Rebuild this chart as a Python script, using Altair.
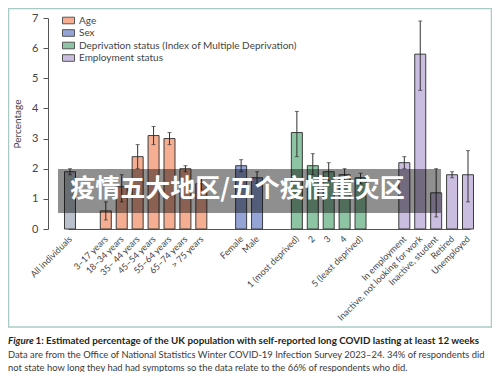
import altair as alt
import pandas as pd

labels = ["All individuals", "3–17 years", "18–34 years", "35– 44 years", "45–54 years",
          "55–64 years", "65–74 years", "> 75 years", "Female", "Male",
          "1 (most deprived)", "2", "3", "4", "5 (least deprived)",
          "In employment", "Inactive, not looking for work", "Inactive, student",
          "Retired", "Unemployed"]
groups = ["All"] + ["Age"] * 7 + ["Sex"] * 2 + \
         ["Deprivation status (Index of Multiple Deprivation)"] * 5 + ["Employment status"] * 5
values = [1.9, 0.6, 1.4, 2.4, 3.1, 3.0, 2.0, 1.5, 2.1, 1.7, 3.2, 2.1, 1.9, 1.8, 1.7,
          2.2, 5.8, 1.2, 1.8, 1.8]
lower = [1.8, 0.3, 0.9, 2.0, 2.8, 2.8, 1.9, 1.3, 1.9, 1.5, 2.4, 1.8, 1.6, 1.6, 1.5,
         2.0, 4.6, 0.4, 1.7, 0.9]
upper = [2.0, 0.9, 1.8, 2.8, 3.4, 3.2, 2.1, 1.7, 2.3, 1.9, 3.9, 2.5, 2.2, 2.0, 1.85,
         2.4, 6.9, 2.0, 1.9, 2.6]
y_ticks = [0, 1, 2, 3, 4, 5, 6, 7]

legend_groups = ["Age", "Sex", "Deprivation status (Index of Multiple Deprivation)", "Employment status"]
color_domain = legend_groups + ["All"]
color_range = ["#f6ae92", "#95a4d6", "#8dc4a3", "#cbbde0", "#b9c2cc"]

overlay_text = "疫情五大地区/五个疫情重灾区"
caption_fig = "Figure"
caption_l1 = "1: Estimated percentage of the UK population with self-reported long COVID lasting at least 12 weeks"
caption_l2 = "Data are from the Office of National Statistics Winter COVID-19 Infection Survey 2023–24. 34% of respondents did"
caption_l3 = "not state how long they had had symptoms so the data relate to the 66% of respondents who did."

df = pd.DataFrame({"label": labels, "group": groups, "value": values, "lo": lower, "hi": upper})

# point-scale domain with spacer slots (quarter-step grid) to reproduce group gaps
gap_quarters = [9, 10, 10, 11]
domain = []
gi = 0
sp = 0
for i, lab in enumerate(labels):
    if i > 0:
        n = 4
        if groups[i] != groups[i - 1]:
            n = gap_quarters[gi]
            gi += 1
        for _ in range(n - 1):
            domain.append(f"__sp{sp}")
            sp += 1
    domain.append(lab)

LABEL_FONT = "Lato"
CAP_FONT = "Lato"

xenc = alt.X("label:N", title=None,
             scale=alt.Scale(type="point", domain=domain, range=[20, 422]),
             axis=alt.Axis(values=labels, labelAngle=-45, labelAlign="right", labelBaseline="middle",
                           labelPadding=8, labelFontSize=9, labelFont=LABEL_FONT, labelColor="#444",
                           ticks=False, domainColor="#555", domainWidth=1, grid=False, labelOverlap=False))

yscale = alt.Scale(domain=[0, 7], nice=False)
yaxis = alt.Axis(values=y_ticks, tickSize=5, tickColor="#555", labelOverlap=False,
                 labelFlush=False, domainColor="#555", labelPadding=5, labelFontSize=11,
                 labelFont=LABEL_FONT, labelColor="#444", grid=False, title="Percentage",
                 titleFontSize=10, titleFont=LABEL_FONT, titleFontWeight="normal",
                 titleColor="#444", titlePadding=9)

base = alt.Chart(df).encode(x=xenc)

bars = base.mark_bar(width=11, stroke="#3d3d3d", strokeWidth=1).encode(
    y=alt.Y("value:Q", scale=yscale, axis=yaxis),
    color=alt.Color("group:N", scale=alt.Scale(domain=color_domain, range=color_range),
                    legend=alt.Legend(orient="none", legendX=14, legendY=-4, title=None,
                                      values=legend_groups, symbolType="M-1,-0.55H1V0.55H-1Z",
                                      symbolSize=144, symbolStrokeColor="#555", symbolStrokeWidth=1,
                                      symbolOpacity=1, labelFontSize=10, labelFont=LABEL_FONT,
                                      labelColor="#444", rowPadding=0.5, padding=0, labelOffset=4,
                                      labelLimit=400)),
)

err = base.mark_rule(color="#333", strokeWidth=1).encode(
    y=alt.Y("lo:Q", scale=yscale, axis=yaxis), y2="hi:Q")
cap_lo = base.mark_tick(color="#333", size=4, thickness=1).encode(
    y=alt.Y("lo:Q", scale=yscale, axis=yaxis))
cap_hi = base.mark_tick(color="#333", size=4, thickness=1).encode(
    y=alt.Y("hi:Q", scale=yscale, axis=yaxis))

one = alt.Chart(pd.DataFrame({"k": [0]}))

band = one.mark_rect(fill="black", opacity=0.44).encode(
    x=alt.value(10), x2=alt.value(393), y=alt.value(151), y2=alt.value(195))
wm = one.mark_text(text=overlay_text, font="Noto Sans CJK SC", fontSize=25, fontWeight="bold",
                   color="white", align="center", baseline="middle").encode(
    x=alt.value(189.5), y=alt.value(171))

frame = one.mark_rect(fillOpacity=0, stroke="#a9cbc5", strokeWidth=1.5).encode(
    x=alt.value(-39.5), x2=alt.value(443.5), y=alt.value(-9.5), y2=alt.value(309))

cap0 = one.mark_text(text=caption_fig, font=CAP_FONT, fontSize=9.8, fontWeight="bold", fontStyle="italic",
                     color="#231f20", align="left", baseline="alphabetic").encode(
    x=alt.value(-40), y=alt.value(326))
cap1 = one.mark_text(text=caption_l1, font=CAP_FONT, fontSize=9.8, fontWeight="bold",
                     color="#231f20", align="left", baseline="alphabetic").encode(
    x=alt.value(-12.5), y=alt.value(326))
cap2 = one.mark_text(text=caption_l2, font=CAP_FONT, fontSize=9.4, color="#3a3a3a",
                     align="left", baseline="alphabetic").encode(x=alt.value(-40), y=alt.value(339.5))
cap3 = one.mark_text(text=caption_l3, font=CAP_FONT, fontSize=9.4, color="#3a3a3a",
                     align="left", baseline="alphabetic").encode(x=alt.value(-40), y=alt.value(353))

chart = alt.layer(frame, bars, err, cap_lo, cap_hi, band, wm, cap0, cap1, cap2, cap3).properties(
    width=437, height=211,
    padding={"left": 40, "top": 10, "right": 7, "bottom": 143},
    autosize=alt.AutoSizeParams(type="none"),
).configure_view(stroke=None)

chart.save("out.html", embed_options={"renderer": "svg", "actions": False})
